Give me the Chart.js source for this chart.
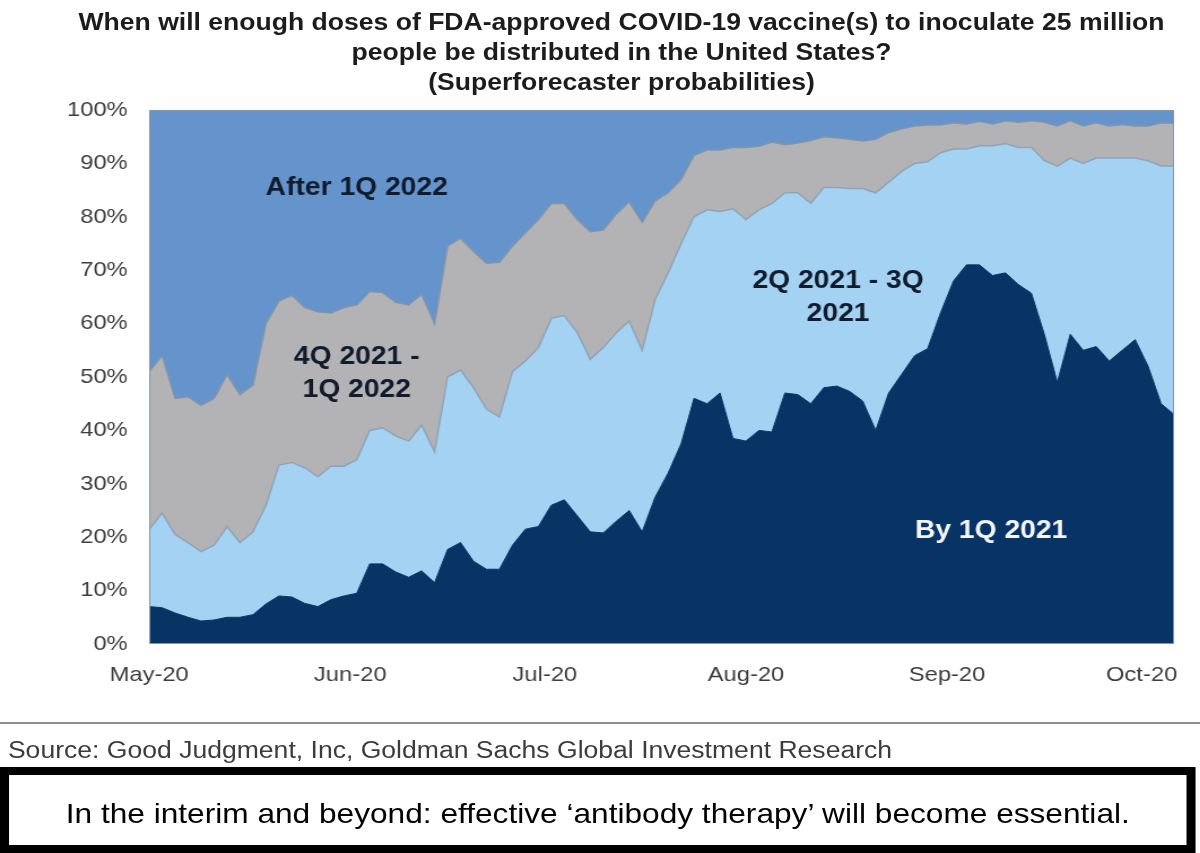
<!DOCTYPE html>
<html>
<head>
<meta charset="utf-8">
<script src="https://cdn.jsdelivr.net/npm/chart.js@4.4.1/dist/chart.umd.min.js"></script>
<style>
  html, body { margin: 0; padding: 0; background: #fff; overflow: hidden; }
  body { width: 1200px; height: 853px; }
  #page {
    position: relative; width: 1062px; height: 853px;
    transform: scaleX(1.13); transform-origin: 0 0;
    font-family: "Liberation Sans", Arial, sans-serif;
  }
  #title {
    position: absolute; left: 0; top: 7px; width: 1100px;
    text-align: center; font-weight: bold; font-size: 23.5px; line-height: 30px; color: #1c1c1c;
  }
  #chartBox { position: absolute; left: 0; top: 0; width: 1062px; height: 700px; }
  #rule { position: absolute; left: 0; top: 722px; width: 1062px; height: 2px; background: #8f8f8f; }
  #source { position: absolute; left: 7px; top: 739px; font-size: 23.5px; line-height: 1; color: #3c3c3c; white-space: nowrap; }
  #note {
    position: absolute; left: 0; top: 767px; width: 1058px; height: 86px; box-sizing: border-box;
    border: 8px solid #000; background: #fff;
  }
  #noteText {
    position: absolute; left: 0; right: 0; top: 25px; text-align: center;
    font-size: 28px; line-height: 1; color: #000; white-space: nowrap;
  }
</style>
</head>
<body>
<div id="page">
  <div id="chartBox"><canvas id="vaccineChart" width="1062" height="700"></canvas></div>
  <div id="title">When will enough doses of FDA-approved COVID-19 vaccine(s) to inoculate 25 million<br>people be distributed in the United States?<br>(Superforecaster probabilities)</div>
  <div id="rule"></div>
  <div id="source">Source: Good Judgment, Inc, Goldman Sachs Global Investment Research</div>
  <div id="note"><div id="noteText">In the interim and beyond: effective ‘antibody therapy’ will become essential.</div></div>
</div>
<script>
// days since 1 May 2020
const days = [
    0, 2, 4, 6, 8, 10, 12, 14, 16, 18,
    20, 22, 24, 26, 28, 30, 32, 34, 36, 38,
    40, 42, 44, 46, 48, 50, 52, 54, 56, 58,
    60, 62, 64, 66, 68, 70, 72, 74, 76, 78,
    80, 82, 84, 86, 88, 90, 92, 94, 96, 98,
    100, 102, 104, 106, 108, 110, 112, 114, 116, 118,
    120, 122, 124, 126, 128, 130, 132, 134, 136, 138,
    140, 142, 144, 146, 148, 150, 152, 154, 156, 158
];
const monthTickDays = [0, 31, 61, 92, 123, 153];
const monthTickLabels = ["May-20", "Jun-20", "Jul-20", "Aug-20", "Sep-20", "Oct-20"];

// cumulative probability (%) that the doses are distributed by the end of each period
const cumBy1Q2021 = [
    7, 6.8, 5.8, 5, 4.3, 4.5, 5, 5, 5.5, 7.5,
    9, 8.8, 7.6, 7, 8.3, 9, 9.5, 15, 15, 13.5,
    12.5, 13.7, 11.5, 17.7, 19, 15.5, 14, 14, 18.5, 21.5,
    22, 26, 27, 24, 21, 20.8, 23, 25, 21, 27.5,
    32, 37.5, 46, 45, 47, 38.5, 38, 40, 39.7, 47,
    46.7, 45, 48, 48.3, 47.3, 45.5, 40, 47, 50.5, 54,
    55.3, 62, 68, 71, 71, 69, 69.5, 67.3, 65.7, 58,
    49, 58, 55, 55.7, 53, 55, 57, 52, 45, 43
];
const cumBy3Q2021 = [
    21.5, 24.5, 20.5, 19, 17.3, 18.5, 22, 19, 21, 26,
    33.5, 34, 33, 31.3, 33.3, 33.3, 34.5, 40, 40.5, 39,
    38, 41, 36, 50, 51.3, 48, 44, 42.5, 51, 53,
    55.5, 61, 61.5, 58.3, 53.3, 55.5, 58.3, 60.5, 55, 64.5,
    69.5, 75, 80, 81.3, 81, 81.5, 79.5, 81.3, 82.5, 84.5,
    84.5, 82.5, 85.5, 85.5, 85.3, 85.3, 84.5, 86.5, 88.5, 90,
    90.3, 92, 92.7, 92.7, 93.3, 93.3, 93.7, 93, 93, 90.5,
    89.5, 91, 90, 91, 91, 91, 91, 90.5, 89.5, 89.5
];
const cumBy1Q2022 = [
    51, 54, 46, 46.3, 44.7, 46, 50.5, 46.7, 48.5, 60,
    64.2, 65.3, 63, 62.2, 62, 63, 63.5, 66, 65.8, 64,
    63.5, 65.5, 60, 74.5, 76, 73.5, 71.3, 71.5, 74.5, 77,
    79.5, 82.5, 82.5, 79.5, 77.2, 77.5, 80.5, 82.8, 79, 83,
    84.5, 87, 91.5, 92.5, 92.5, 93, 93, 93.2, 94, 93.5,
    93.8, 94.3, 95, 94.8, 94.5, 94.2, 94.5, 95.8, 96.5, 97,
    97.2, 97.2, 97.6, 97.4, 97.9, 97.4, 98, 97.7, 98, 97.7,
    97, 98, 97, 97.6, 97, 97.3, 97, 97, 97.6, 97.5
];

const seriesNames = ["By 1Q 2021", "2Q 2021 - 3Q 2021", "4Q 2021 - 1Q 2022", "After 1Q 2022"];
const seriesColors = ["#073465", "#a3d2f2", "#b3b3b5", "#6594cd"];

// in-chart labels, placed in data units (day, %)
const areaLabels = [
    { lines: ["After 1Q 2022"], day: 32, pct: 85.4, color: "#111b2b" },
    { lines: ["4Q 2021 -", "1Q 2022"], day: 32, pct: 53.8, color: "#111b2b" },
    { lines: ["2Q 2021 - 3Q", "2021"], day: 106.2, pct: 67.9, color: "#111b2b" },
    { lines: ["By 1Q 2021"], day: 129.8, pct: 21.2, color: "#f4f6f9" }
];

const frameAndLabels = {
    id: "frameAndLabels",
    afterDatasetsDraw(chart) {
        const { ctx, chartArea: a, scales: { x, y } } = chart;
        ctx.save();
        ctx.strokeStyle = "#8397ad";
        ctx.lineWidth = 1;
        ctx.strokeRect(a.left + 0.5, a.top + 0.5, a.width - 1, a.height - 1);

        ctx.font = 'bold 25px "Liberation Sans", Arial, sans-serif';
        ctx.textAlign = "center";
        ctx.textBaseline = "middle";
        areaLabels.forEach(l => {
            ctx.fillStyle = l.color;
            l.lines.forEach((t, i) => {
                ctx.fillText(t, x.getPixelForValue(l.day), y.getPixelForValue(l.pct) + i * 33);
            });
        });
        ctx.restore();
    }
};

let ctx = document.getElementById("vaccineChart").getContext("2d");
let vaccineChart = new Chart(ctx, {
    type: "line",
    data: {
        labels: days,
        datasets: [
            {
                label: seriesNames[0],
                data: cumBy1Q2021,
                backgroundColor: seriesColors[0],
                borderColor: seriesColors[0],
                borderWidth: 1,
                fill: "origin"
            },
            {
                label: seriesNames[1],
                data: cumBy3Q2021,
                backgroundColor: seriesColors[1],
                borderColor: "#8fa4b8",
                borderWidth: 1.5,
                fill: "-1"
            },
            {
                label: seriesNames[2],
                data: cumBy1Q2022,
                backgroundColor: seriesColors[2],
                borderColor: "#8194a9",
                borderWidth: 1.5,
                fill: "-1"
            },
            {
                label: seriesNames[3],
                data: cumBy1Q2022,
                backgroundColor: seriesColors[3],
                borderWidth: 0,
                fill: "end"
            }
        ]
    },
    options: {
        responsive: false,
        animation: false,
        elements: { point: { radius: 0 }, line: { tension: 0 } },
        layout: { padding: { left: 0, right: 23, top: 110, bottom: 6 } },
        plugins: {
            legend: { display: false },
            tooltip: { enabled: false }
        },
        scales: {
            x: {
                type: "linear",
                min: 0,
                max: 158,
                grid: { display: false, drawTicks: false },
                border: { display: false },
                afterBuildTicks: axis => {
                    axis.ticks = monthTickDays.map(v => ({ value: v }));
                },
                afterFit: axis => { axis.height = 50; },
                ticks: {
                    autoSkip: false,
                    maxRotation: 0,
                    padding: 19,
                    color: "#3d3d3d",
                    font: { family: '"Liberation Sans", Arial, sans-serif', size: 21 },
                    callback: v => monthTickLabels[monthTickDays.indexOf(v)]
                }
            },
            y: {
                min: 0,
                max: 100,
                grid: { display: false, drawTicks: false },
                border: { display: false },
                afterFit: axis => { axis.width = 132; },
                ticks: {
                    stepSize: 10,
                    padding: 19,
                    color: "#3d3d3d",
                    font: { family: '"Liberation Sans", Arial, sans-serif', size: 21 },
                    callback: v => v + "%"
                }
            }
        }
    },
    plugins: [frameAndLabels]
});
</script>
</body>
</html>
